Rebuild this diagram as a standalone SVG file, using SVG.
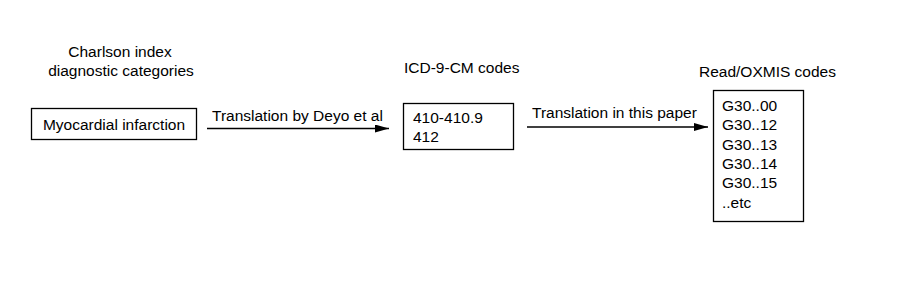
<svg xmlns="http://www.w3.org/2000/svg" width="900" height="287" viewBox="0 0 900 287">
<style>
text{font-family:"Liberation Sans",Arial,sans-serif;font-size:15.5px;fill:#000}
.box{fill:#fff;stroke:#000;stroke-width:1.3}
.conn{stroke:#000;stroke-width:1.3;fill:none}
</style>
<defs>
<marker id="ah" markerWidth="14" markerHeight="8" refX="14" refY="4" orient="auto" markerUnits="userSpaceOnUse">
<path d="M0,0 L14,4 L0,8 Z" fill="#000"/>
</marker>
</defs>
<rect width="900" height="287" fill="#fff"/>
<g id="charlson">
<text x="120" y="57" text-anchor="middle">Charlson index</text>
<text x="121" y="76" text-anchor="middle">diagnostic categories</text>
<rect class="box" x="31.5" y="108.5" width="165" height="31"/>
<text x="114" y="130" text-anchor="middle">Myocardial infarction</text>
</g>
<g id="icd">
<text x="404" y="73">ICD-9-CM codes</text>
<rect class="box" x="403.5" y="103.5" width="110" height="46"/>
<text x="413" y="122.5">410-410.9</text>
<text x="413" y="141.5">412</text>
</g>
<g id="read">
<text x="699" y="77">Read/OXMIS codes</text>
<rect class="box" x="713.5" y="90.5" width="90" height="131"/>
<text x="722" y="111">G30..00</text>
<text x="722" y="130.3">G30..12</text>
<text x="722" y="149.6">G30..13</text>
<text x="722" y="168.9">G30..14</text>
<text x="722" y="188.2">G30..15</text>
<text x="722" y="207.5">..etc</text>
</g>
<g id="connectors">
<line class="conn" x1="207" y1="128.5" x2="389" y2="128.5" marker-end="url(#ah)"/>
<text x="212" y="120.5">Translation by Deyo et al</text>
<line class="conn" x1="527" y1="127" x2="708" y2="127" marker-end="url(#ah)"/>
<text x="532" y="118">Translation in this paper</text>
</g>
</svg>
